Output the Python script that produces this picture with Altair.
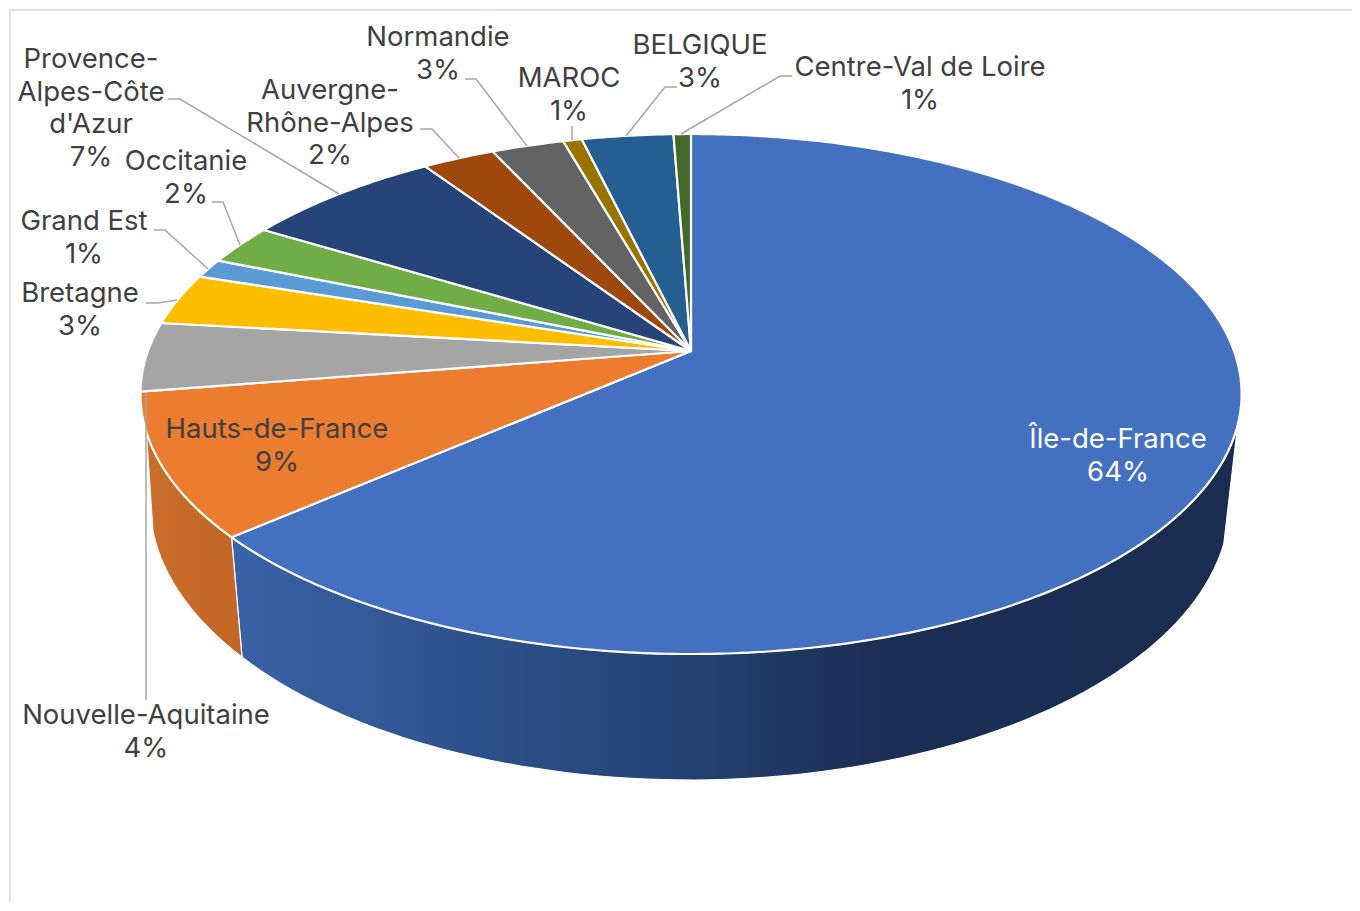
import math
import altair as alt
import pandas as pd

# ---- chart values (share of each region, %)
names = ["Île-de-France", "Hauts-de-France", "Nouvelle-Aquitaine", "Bretagne", "Grand Est", "Occitanie",
         "Provence-Alpes-Côte d'Azur", "Auvergne-Rhône-Alpes", "Normandie", "MAROC", "BELGIQUE", "Centre-Val de Loire"]
values = [63.6, 8.9, 4.3, 3.2, 1.2, 2.5, 6.9, 2.5, 2.5, 0.65, 3.15, 0.6]
colors = ["#4371C0", "#EB7C30", "#A5A5A5", "#FDBE00", "#5B9BD5", "#70AD47",
          "#264478", "#9E480E", "#636363", "#997300", "#255E91", "#43682B"]
label_lines = [["Île-de-France", "64%"], ["Hauts-de-France", "9%"], ["Nouvelle-Aquitaine", "4%"], ["Bretagne", "3%"],
               ["Grand Est", "1%"], ["Occitanie", "2%"], ["Provence-", "Alpes-Côte", "d'Azur", "7%"],
               ["Auvergne-", "Rhône-Alpes", "2%"], ["Normandie", "3%"], ["MAROC", "1%"], ["BELGIQUE", "3%"],
               ["Centre-Val de Loire", "1%"]]

# ---- layout of the labels and leader lines
label_x = [1118, 277, 146, 80, 84, 186, 91, 330, 438, 569, 700, 920]
label_y = [440, 430, 716, 294, 222, 162, 60, 91, 38, 79, 46, 68]
LINE_STEP = 32.7
leaders = [
    [(146, 700), (146, 393)],
    [(146, 303), (158, 303), (177, 300)],
    [(154, 230), (165, 230), (208, 269)],
    [(212, 202), (223, 202), (240, 245)],
    [(168, 99), (180, 99), (339, 194)],
    [(420, 129), (432, 129), (459, 158)],
    [(465, 79), (476, 79), (527, 146)],
    [(572, 126), (572, 140)],
    [(677, 87), (665, 87), (626, 136)],
    [(792, 76), (780, 76), (681, 134)],
]

# ---- geometry of the perspective pie
CX, CY, K, A, B = 691.0, 351.0, 0.1654, 543.0, 252.9
LOW_CX, LOW_CY, LOW_A, LOW_B = 690.0, 502.0, 540.0, 278.0
RIGHT_EDGE, LEFT_EDGE = 106.2, 252.3
LOW_RIGHT, LOW_LEFT = 8.7, 174.0
PLOT_W, PLOT_H = 1342, 893


def top(deg):
    t = math.radians(deg)
    u, v = math.sin(t), -math.cos(t)
    w = 1 - K * v
    return CX + A * u / w, CY + B * v / w


def low(phi):
    p = math.radians(phi)
    return LOW_CX + LOW_A * math.cos(p), LOW_CY + LOW_B * math.sin(p)


def steps(a, b, n=80):
    return [a + (b - a) * i / n for i in range(n + 1)]


X = alt.X("x:Q", scale=alt.Scale(domain=[10, 10 + PLOT_W], range=[0, PLOT_W]), axis=None)
Y = alt.Y("y:Q", scale=alt.Scale(domain=[10, 10 + PLOT_H], range=[0, PLOT_H]), axis=None)


def shape(points, **mark):
    df = pd.DataFrame([{"x": p[0], "y": p[1], "i": i} for i, p in enumerate(points)])
    return alt.Chart(df).mark_line(interpolate="linear-closed", **mark).encode(x=X, y=Y, order="i:Q")


edges = [0.0]
for val in values:
    edges.append(edges[-1] + val * 3.6)

split_deg = edges[1]
split_top = top(split_deg)
split_phi = math.degrees(math.acos((split_top[0] - CX) * 0.975 / LOW_A))

wall_blue = shape(
    [top(d) for d in steps(RIGHT_EDGE, split_deg)] + [low(p) for p in steps(split_phi, LOW_RIGHT)],
    fill=alt.Gradient(gradient="linear", x1=0, x2=1, y1=0, y2=0, stops=[
        alt.GradientStop(offset=0, color="#3A62A8"),
        alt.GradientStop(offset=0.2, color="#31548F"),
        alt.GradientStop(offset=0.45, color="#244173"),
        alt.GradientStop(offset=0.65, color="#1B2E54"),
        alt.GradientStop(offset=1, color="#1A2C4F"),
    ]),
    stroke="#ffffff", strokeWidth=1.2,
)
wall_orange = shape(
    [top(d) for d in steps(split_deg, LEFT_EDGE)] + [low(p) for p in steps(LOW_LEFT, split_phi)],
    fill=alt.Gradient(gradient="linear", x1=0, x2=1, y1=0, y2=0, stops=[
        alt.GradientStop(offset=0, color="#CB6E2C"),
        alt.GradientStop(offset=1, color="#C16626"),
    ]),
    stroke="#ffffff", strokeWidth=1.2,
)

faces = []
for n, col in enumerate(colors):
    count = max(4, int((edges[n + 1] - edges[n]) * 1.5))
    pts = [(CX, CY)] + [top(d) for d in steps(edges[n], edges[n + 1], count)]
    faces.append(shape(pts, fill=col, stroke="#ffffff", strokeWidth=2.2, strokeJoin="round"))

rows = []
for n, leader in enumerate(leaders):
    rows += [{"x": p[0], "y": p[1], "i": i, "g": n} for i, p in enumerate(leader)]
leader_layer = alt.Chart(pd.DataFrame(rows)).mark_line(color="#A6A6A6", strokeWidth=1.5).encode(
    x=X, y=Y, detail="g:N", order="i:Q")

text_rows = []
for n, lines in enumerate(label_lines):
    for j, line in enumerate(lines):
        text_rows.append({"x": label_x[n], "y": label_y[n] + j * LINE_STEP, "t": line, "c": "#FFFFFF" if n == 0 else "#404040"})
text_layer = alt.Chart(pd.DataFrame(text_rows)).mark_text(
    font="Inter", fontSize=27.5, align="center", baseline="middle").encode(
    x=X, y=Y, text="t:N", color=alt.Color("c:N", scale=None))

frame_left = alt.Chart(pd.DataFrame({"x": [10]})).mark_rule(color="#D9D9D9", strokeWidth=1.5).encode(
    x=alt.value(0), y=alt.value(0), y2=alt.value(PLOT_H))
frame_top = alt.Chart(pd.DataFrame({"x": [10]})).mark_rule(color="#D9D9D9", strokeWidth=1.5).encode(
    y=alt.value(0), x=alt.value(0), x2=alt.value(PLOT_W))

chart = alt.layer(frame_left, frame_top, wall_blue, wall_orange, *faces, leader_layer, text_layer).properties(
    width=PLOT_W, height=PLOT_H, padding={"left": 2, "top": 2, "right": 0, "bottom": 0},
    autosize=alt.AutoSizeParams(type="none"),
    background="#ffffff",
).configure_view(stroke=None)

chart.save("out.html", embed_options={"renderer": "svg", "actions": False})
